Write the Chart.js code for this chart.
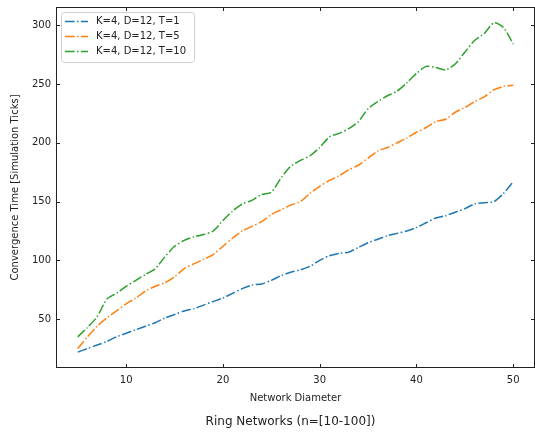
<!DOCTYPE html>
<html>
<head>
<meta charset="utf-8">
<script src="https://cdn.jsdelivr.net/npm/chart.js@4.4.1/dist/chart.umd.min.js"></script>
<style>
  html, body { margin: 0; padding: 0; background: #fff; }
  #wrap { width: 535px; height: 434px; }
</style>
</head>
<body>
<div id="wrap"><canvas id="chart" width="535" height="434"></canvas></div>
<script>
// Data
const diameters = [5, 6, 7, 8, 9, 10, 11, 12, 13, 14, 15, 16, 17, 18, 19, 20, 21, 22, 23, 24, 25, 26, 27,
  28, 29, 30, 31, 32, 33, 34, 35, 36, 37, 38, 39, 40, 41, 42, 43, 44, 45, 46, 47, 48, 49, 50];
const timeT1 = [22, 25, 28, 31, 35, 38, 41, 44, 47, 51, 54, 57, 59, 62, 65, 68, 72, 76, 79, 80, 83, 87, 90,
  92, 95, 100, 104, 106, 107, 111, 115, 118, 121, 123, 125, 128, 132, 136, 138, 141, 144, 148, 149, 150, 157, 167];
const timeT5 = [25, 35, 44, 51, 57, 63, 68, 74, 78, 81, 86, 93, 97, 101, 105, 112, 119, 125, 129, 133, 139, 143, 147,
  150, 157, 163, 168, 172, 177, 181, 187, 193, 196, 200, 204, 209, 213, 218, 220, 226, 230, 235, 239, 245, 248, 249];
const timeT10 = [35, 43, 52, 67, 72, 78, 83, 88, 93, 103, 112, 117, 120, 122, 125, 134, 142, 148, 151, 156, 158, 170, 180,
  185, 189, 196, 205, 208, 212, 218, 229, 235, 240, 244, 251, 259, 265, 264, 262, 267, 277, 287, 293, 302, 298, 284];
const seriesLabels = ["K=4, D=12, T=1", "K=4, D=12, T=5", "K=4, D=12, T=10"];
const xTicks = [10, 20, 30, 40, 50];
const yTicks = [50, 100, 150, 200, 250, 300];
const figTitle = "Ring Networks (n=[10-100])";

const colors = ["#1f77b4", "#ff7f0e", "#2ca02c"];
const dashDot = [9.6, 2.4, 1.5, 2.4];
const FONT = "'DejaVu Sans', sans-serif";

const toPoints = (ys) => ys.map((y, i) => ({ x: diameters[i], y }));

// inward ticks on all four sides, frame, legend inside the axes, and the title below
const framePlugin = {
  id: "frame",
  afterDraw(chart) {
    const { ctx, chartArea: a, scales } = chart;
    ctx.save();
    ctx.strokeStyle = "#222";
    ctx.lineWidth = 1;
    const L = 4;
    ctx.beginPath();
    for (const v of xTicks) {
      const px = Math.round(scales.x.getPixelForValue(v)) + 0.5;
      ctx.moveTo(px, a.bottom); ctx.lineTo(px, a.bottom - L);
      ctx.moveTo(px, a.top); ctx.lineTo(px, a.top + L);
    }
    for (const v of yTicks) {
      const py = Math.round(scales.y.getPixelForValue(v)) + 0.5;
      ctx.moveTo(a.left, py); ctx.lineTo(a.left + L, py);
      ctx.moveTo(a.right, py); ctx.lineTo(a.right - L, py);
    }
    ctx.stroke();
    ctx.strokeRect(Math.round(a.left) + 0.5, Math.round(a.top) + 0.5,
      Math.round(a.right - a.left) - 1, Math.round(a.bottom - a.top) - 1);

    // legend
    const bx = a.left + 5, by = a.top + 5, bw = 133, bh = 50;
    ctx.fillStyle = "rgba(255,255,255,0.8)";
    ctx.strokeStyle = "#d0d0d0";
    ctx.beginPath();
    ctx.roundRect(bx + 0.5, by + 0.5, bw, bh, 3);
    ctx.fill();
    ctx.stroke();
    ctx.font = "10px " + FONT;
    ctx.textBaseline = "middle";
    seriesLabels.forEach((lab, i) => {
      const y = by + 9.5 + i * 15;
      ctx.strokeStyle = colors[i];
      ctx.lineWidth = 1.5;
      ctx.setLineDash(dashDot);
      ctx.beginPath();
      ctx.moveTo(bx + 4, y); ctx.lineTo(bx + 27, y);
      ctx.stroke();
      ctx.setLineDash([]);
      ctx.fillStyle = "#222";
      ctx.fillText(lab, bx + 35, y);
    });

    // figure title, centred under the axes
    ctx.font = "12px " + FONT;
    ctx.textAlign = "center";
    ctx.fillStyle = "#222";
    ctx.fillText(figTitle, (a.left + a.right) / 2 - 5, 422);
    ctx.restore();
  }
};

const ctx = document.getElementById("chart").getContext("2d");
new Chart(ctx, {
  type: "line",
  data: {
    datasets: [timeT1, timeT5, timeT10].map((ys, i) => ({
      label: seriesLabels[i],
      data: toPoints(ys),
      borderColor: colors[i],
      backgroundColor: colors[i],
      borderWidth: 1.5,
      borderDash: dashDot,
      pointRadius: 0,
      tension: 0.25,
      fill: false,
    })),
  },
  options: {
    responsive: false,
    animation: false,
    layout: { padding: { top: 7, right: 0, left: 0, bottom: 26 } },
    plugins: {
      legend: { display: false },
      tooltip: { enabled: false },
    },
    scales: {
      x: {
        type: "linear",
        min: 2.75, max: 52.25,
        afterBuildTicks: (s) => { s.ticks = xTicks.map(v => ({ value: v })); },
        afterFit: (s) => { s.height = 40; s.paddingLeft = 0; s.paddingRight = 0; },
        grid: { display: false, drawTicks: false },
        border: { display: false },
        ticks: { color: "#222", padding: 6, font: { family: FONT, size: 10 } },
        title: { display: true, text: "Network Diameter", color: "#222", padding: { top: 0, bottom: 4 }, font: { family: FONT, size: 10 } },
      },
      y: {
        type: "linear",
        min: 8.5, max: 315.5,
        afterBuildTicks: (s) => { s.ticks = yTicks.map(v => ({ value: v })); },
        afterFit: (s) => { s.width = 56; s.paddingTop = 0; s.paddingBottom = 0; },
        grid: { display: false, drawTicks: false },
        border: { display: false },
        ticks: { color: "#222", padding: 5, font: { family: FONT, size: 10 } },
        title: { display: true, text: "Convergence Time [Simulation Ticks]", color: "#222", padding: { top: 9, bottom: 0 }, font: { family: FONT, size: 10 } },
      },
    },
  },
  plugins: [framePlugin],
});
</script>
</body>
</html>
